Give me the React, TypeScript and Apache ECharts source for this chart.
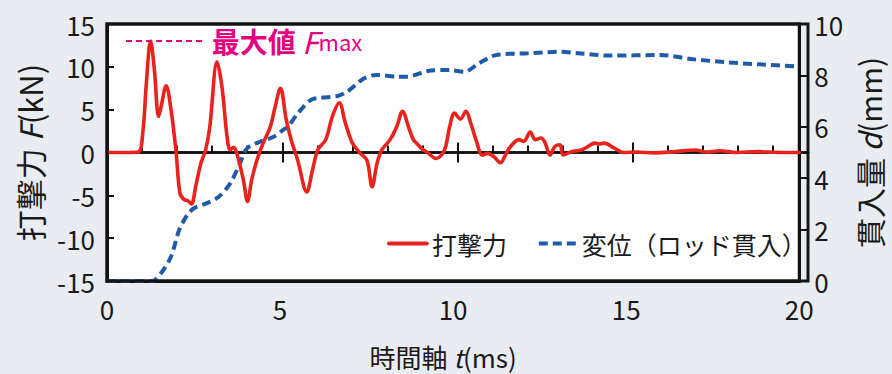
import React, { useEffect, useRef } from "react";
import * as echarts from "echarts";

// 打撃力 F (kN) vs time t (ms)
const forceTime = [
  0, 0.5, 0.9, 1.04, 1.13, 1.26, 1.37, 1.49, 1.56, 1.71, 1.85, 1.99, 2.11, 2.23, 2.32, 2.44, 2.56, 2.71,
  2.85, 2.97, 3.18, 3.32, 3.47, 3.56, 3.66, 3.75, 3.94, 4.06, 4.18, 4.33, 4.51, 4.71, 4.85, 5.01, 5.18,
  5.32, 5.51, 5.77, 5.94, 6.09, 6.32, 6.51, 6.71, 6.89, 7.09, 7.32, 7.51, 7.66, 7.8, 7.94, 8.18, 8.37,
  8.54, 8.71, 8.85, 8.94, 9.13, 9.23, 9.51, 9.75, 9.9, 10.04, 10.21, 10.37, 10.51, 10.66, 10.85, 10.99,
  11.18, 11.37, 11.51, 11.66, 11.9, 12.04, 12.23, 12.37, 12.54, 12.66, 12.8, 12.94, 13.09, 13.18, 13.42,
  13.71, 13.9, 14.09, 14.23, 14.37, 14.66, 14.94, 15.3, 15.8, 16.4, 17.0, 17.3, 17.7, 18.2, 18.8, 19.4, 20,
];
const forceValue = [
  0, 0, 0.05, 2.6, 7.7, 13.0, 9.6, 4.2, 5.3, 7.8, 5.0, 0.3, -4.8, -5.5, -5.6, -6.0, -4.0, -1.3,
  0.3, 3.0, 10.6, 7.7, 1.8, 0.3, 0.6, -0.1, -3.2, -5.7, -3.2, -0.9, 1.1, 2.9, 5.2, 7.5, 3.8,
  1.5, -0.9, -4.6, -2.0, 0.3, 1.5, 4.2, 5.8, 3.4, 1.1, -0.1, -0.9, -4.0, -1.3, 0.3, 1.5, 3.0,
  4.8, 3.0, 1.5, 1.1, 0.3, 0.1, -0.7, 0.3, 3.0, 4.6, 3.9, 4.8, 3.4, 1.5, -0.3, -0.1,
  -0.5, -1.2, -0.3, 0.7, 1.5, 1.3, 2.4, 1.5, 1.7, 1.1, -0.3, 0.7, 0.9, -0.3, 0.1,
  0.3, 0.7, 1.1, 1.0, 1.1, 0.5, 0.0, 0.05, -0.05, 0.1, 0.3, 0.05, 0.2, 0.0, 0.1, 0.0, 0.0,
];

// 変位 d (mm) vs time t (ms)
const dispTime = [
  0, 1.3, 1.56, 1.85, 2.09, 2.32, 2.51, 2.89, 3.23, 3.56, 3.85, 4.04, 4.42, 4.8, 5.09, 5.23, 5.51, 5.89,
  6.18, 6.66, 6.94, 7.42, 7.8, 8.37, 8.66, 9.27, 9.9, 10.32, 10.75, 11.23, 12.18, 13.13, 13.61, 14.56,
  15.99, 16.94, 17.9, 18.85, 20,
];
const dispValue = [
  0, 0, 0.3, 0.95, 2.0, 2.57, 2.83, 3.03, 3.28, 3.8, 4.6, 5.15, 5.42, 5.6, 5.88, 6.0, 6.52, 7.05,
  7.13, 7.2, 7.37, 7.88, 8.02, 7.95, 7.95, 8.17, 8.21, 8.14, 8.47, 8.79, 8.86, 8.92, 8.86, 8.77,
  8.79, 8.63, 8.51, 8.43, 8.34,
];

const seriesNames = ["打撃力", "変位（ロッド貫入）"];
const leftTicks = { min: -15, max: 15, interval: 5 };
const rightTicks = { min: 0, max: 10, interval: 2 };
const timeTicks = { min: 0, max: 20, interval: 5 };
const fmaxSpan = [0.55, 2.85];

const FONT = "'Noto Sans CJK JP', 'Noto Sans', sans-serif";
const RED = "#e8231e";
const BLUE = "#1f5ba8";
const PINK = "#e5007f";
const INK = "#1a1a1a";
const FRAME = "#111111";
const FRAME_RGB = "rgb(17, 17, 17)";
const BACKUP_FRAME = "#141414";

type Flags = {
  dash: boolean;
  capJoin: boolean;
  legendWidth: boolean;
  richNames: boolean;
  yNames: boolean;
  legend: boolean;
  markLine: boolean;
  smooth: boolean;
};

const RECT = { left: 107, right: 84, top: 24, bottom: 93 };

function buildOption(f: Flags) {
  const frameLine = { show: true, onZero: false, lineStyle: { color: FRAME, width: 3 } };
  const forceData = forceTime.map((t, i) => [t, forceValue[i]]);
  const dispData = dispTime.map((t, i) => [t, dispValue[i]]);
  const fmax = Math.max(...forceValue);

  const nameStyle = (size: number, padding?: number[]) => ({
    fontSize: size,
    color: INK,
    padding,
    rich: f.richNames
      ? { a: { fontSize: size, color: INK }, i: { fontSize: size, fontStyle: "italic", color: INK } }
      : undefined,
  });
  const nm = (a: string, i: string, b: string) => (f.richNames ? `{a|${a}}{i|${i}}{a|${b}}` : a + i + b);

  const redSeries: any = {
    name: seriesNames[0],
    type: "line",
    xAxisIndex: 0,
    yAxisIndex: 0,
    data: forceData,
    smooth: f.smooth ? 0.35 : false,
    symbol: "none",
    z: 4,
    lineStyle: f.capJoin ? { color: RED, width: 3.6, join: "round", cap: "round" } : { color: RED, width: 3.6 },
    itemStyle: { color: RED },
  };
  if (f.markLine) {
    redSeries.markLine = {
      silent: true,
      symbol: ["none", "none"],
      lineStyle: { color: PINK, width: 2, type: f.dash ? [6, 4] : "dashed" },
      label: {
        show: true,
        position: "end",
        distance: 6,
        formatter: "{a|最大値 }{b|F}{c|max}",
        rich: {
          a: { fontSize: 28, fontWeight: "bold", color: PINK },
          b: { fontSize: 30, fontStyle: "italic", color: PINK },
          c: { fontSize: 22, color: PINK },
        },
      },
      data: [[{ coord: [fmaxSpan[0], fmax] }, { coord: [fmaxSpan[1], fmax] }]],
    };
  }

  const leftY: any = {
    gridIndex: 0,
    type: "value",
    position: "left",
    ...leftTicks,
    axisLine: frameLine,
    axisTick: { show: true, inside: true, length: 7, lineStyle: { color: FRAME, width: 2 } },
    splitLine: { show: false },
    axisLabel: { fontSize: 26, color: INK, margin: 12 },
  };
  const rightY: any = {
    gridIndex: 0,
    type: "value",
    position: "right",
    ...rightTicks,
    axisLine: frameLine,
    axisTick: { show: true, inside: false, length: 8, lineStyle: { color: FRAME, width: 2 } },
    splitLine: { show: false },
    axisLabel: { fontSize: 26, color: INK, margin: 15 },
  };
  if (f.yNames) {
    Object.assign(leftY, {
      name: nm("打撃力 ", "F", "(kN)"),
      nameLocation: "middle",
      nameRotate: 90,
      nameGap: 62,
      nameTextStyle: nameStyle(31),
    });
    Object.assign(rightY, {
      name: nm("貫入量 ", "d", "(mm)"),
      nameLocation: "middle",
      nameRotate: 90,
      nameGap: 53,
      nameTextStyle: nameStyle(30),
    });
  }

  const opt: any = {
    animation: false,
    backgroundColor: "#e9ecf1",
    textStyle: { fontFamily: FONT },
    grid: [
      { ...RECT, show: true, backgroundColor: "#ffffff", borderColor: FRAME, borderWidth: 3 },
      { ...RECT, show: false },
      { ...RECT, show: false },
    ],
    graphic: [
      {
        type: "rect",
        silent: true,
        z: 5,
        shape: { x: RECT.left, y: RECT.top, width: 892 - RECT.left - RECT.right, height: 374 - RECT.top - RECT.bottom },
        style: { fill: "none", stroke: BACKUP_FRAME, lineWidth: 3 },
      },
    ],
    xAxis: [
      {
        gridIndex: 0,
        type: "value",
        position: "bottom",
        ...timeTicks,
        axisLine: frameLine,
        axisTick: { show: false },
        splitLine: { show: false },
        axisLabel: { fontSize: 26, color: INK, margin: 14 },
        name: nm("時間軸 ", "t", "(ms)"),
        nameLocation: "middle",
        nameGap: 62,
        nameTextStyle: nameStyle(26, [0, 20, 0, 0]),
      },
      {
        gridIndex: 1,
        type: "value",
        position: "bottom",
        ...timeTicks,
        axisLine: { show: true, onZero: true, lineStyle: { color: FRAME, width: 2.5 } },
        axisTick: { show: true, inside: true, length: 10, lineStyle: { color: FRAME, width: 2 } },
        minorTick: { show: true, splitNumber: 5, length: 7, lineStyle: { color: FRAME, width: 2 } },
        axisLabel: { show: false },
        splitLine: { show: false },
      },
      {
        gridIndex: 2,
        type: "value",
        position: "bottom",
        ...timeTicks,
        axisLine: { show: true, onZero: true, lineStyle: { color: FRAME, width: 2.5 } },
        axisTick: { show: true, inside: false, length: 10, lineStyle: { color: FRAME, width: 2 } },
        axisLabel: { show: false },
        splitLine: { show: false },
      },
    ],
    yAxis: [
      leftY,
      rightY,
      { gridIndex: 1, type: "value", ...leftTicks, axisLine: { show: false }, axisTick: { show: false }, axisLabel: { show: false }, splitLine: { show: false } },
      { gridIndex: 2, type: "value", ...leftTicks, axisLine: { show: false }, axisTick: { show: false }, axisLabel: { show: false }, splitLine: { show: false } },
    ],
    series: [
      redSeries,
      {
        name: seriesNames[1],
        type: "line",
        xAxisIndex: 0,
        yAxisIndex: 1,
        data: dispData,
        smooth: f.smooth ? 0.3 : false,
        symbol: "none",
        z: 3,
        lineStyle: { color: BLUE, width: 4, type: f.dash ? [9, 5] : "dashed" },
        itemStyle: { color: BLUE },
      },
    ],
  };
  if (f.legend) {
    opt.legend = {
      left: 382,
      top: 226,
      itemWidth: 38,
      itemHeight: 14,
      itemGap: 30,
      itemStyle: { opacity: 0 },
      lineStyle: f.legendWidth ? { width: 3.8 } : undefined,
      textStyle: { fontSize: 25, color: INK },
      data: seriesNames,
    };
  }
  return opt;
}

const ALL: Flags = { dash: true, capJoin: true, legendWidth: true, richNames: true, yNames: true, legend: true, markLine: true, smooth: true };
const variants: Flags[] = [
  ALL,
  { ...ALL, dash: false },
  { ...ALL, dash: false, capJoin: false, legendWidth: false },
  { ...ALL, dash: false, capJoin: false, legendWidth: false, richNames: false },
  { ...ALL, dash: false, capJoin: false, legendWidth: false, richNames: false, yNames: false },
  { ...ALL, dash: false, capJoin: false, legendWidth: false, richNames: false, yNames: false, legend: false },
  { ...ALL, dash: false, capJoin: false, legendWidth: false, richNames: false, yNames: false, legend: false, markLine: false },
  { dash: false, capJoin: false, legendWidth: false, richNames: false, yNames: false, legend: false, markLine: false, smooth: false },
];

// true when the left frame line of the axes is really drawn with a visible stroke
function frameVisible(el: HTMLElement): boolean {
  const paths = Array.from(el.querySelectorAll("svg path")) as SVGElement[];
  let left = false;
  let bottom = false;
  for (const p of paths) {
    const cs = window.getComputedStyle(p);
    const stroke = (p.getAttribute("stroke") || "").toLowerCase();
    const okColor = stroke === FRAME || cs.stroke === FRAME_RGB;
    if (!okColor) continue;
    if (parseFloat(cs.strokeWidth || "0") < 2.5) continue;
    if (cs.visibility === "hidden" || cs.display === "none") continue;
    if (parseFloat(cs.opacity || "1") === 0 || parseFloat(cs.strokeOpacity || "1") === 0) continue;
    const da = cs.strokeDasharray;
    if (da && da !== "none" && da !== "") continue;
    const b = p.getBoundingClientRect();
    if (b.height > 200 && b.left > 95 && b.left < 115) left = true;
    if (b.width > 600 && b.top > 270 && b.top < 292) bottom = true;
  }
  return left && bottom;
}

export default function App() {
  const ref = useRef<HTMLDivElement>(null);
  useEffect(() => {
    const el = ref.current;
    if (!el) return;
    let chart = echarts.init(el, null, { renderer: "svg" });
    for (let k = 0; k < variants.length; k++) {
      let ok = false;
      try {
        chart.setOption(buildOption(variants[k]), true);
        ok = frameVisible(el);
      } catch (e) {
        ok = false;
      }
      if (ok || k === variants.length - 1) break;
      chart.dispose();
      chart = echarts.init(el, null, { renderer: "svg" });
    }
    return () => chart.dispose();
  }, []);
  return <div ref={ref} style={{ position: "fixed", left: 0, top: 0, width: 892, height: 374 }} />;
}
